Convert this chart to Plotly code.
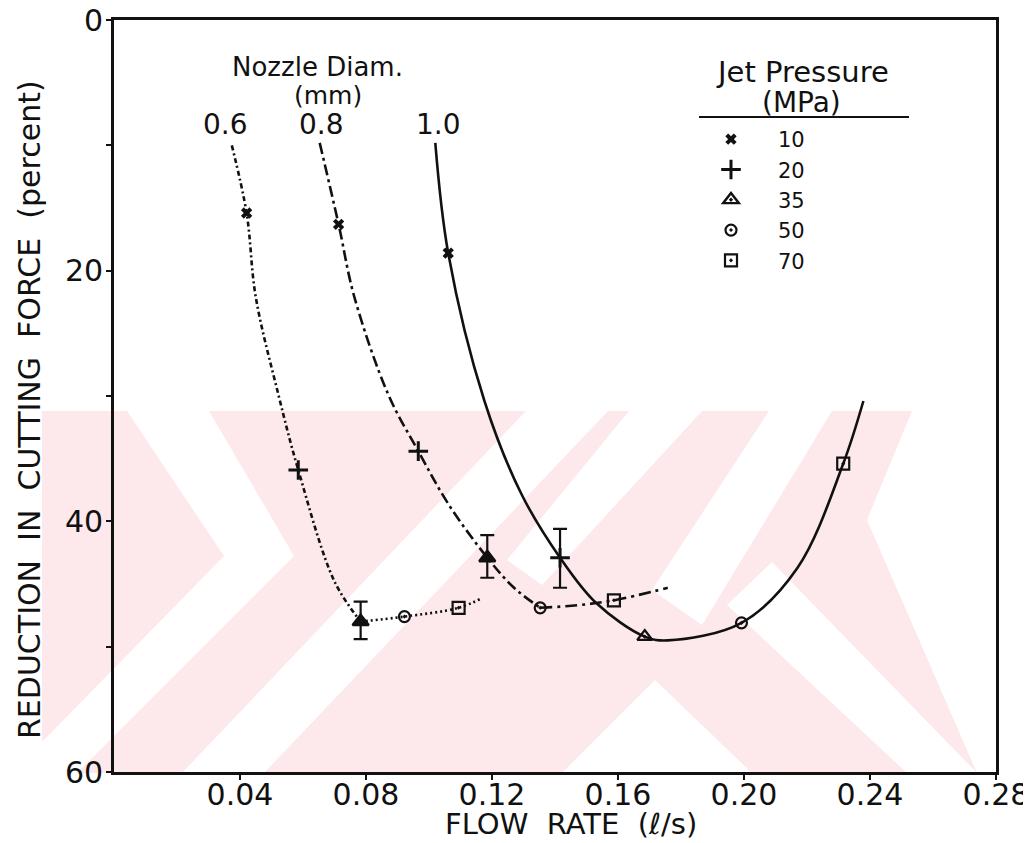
import plotly.graph_objects as go

# ---------------- data ----------------
pressures = ["10", "20", "35", "50", "70"]          # jet pressure (MPa)

# measured points, one per pressure, for each nozzle diameter
flow_06 = [0.0421, 0.0585, 0.0783, 0.0922, 0.1094]
red_06 = [15.4, 35.9, 48.0, 47.6, 46.9]
flow_08 = [0.0713, 0.0966, 0.1185, 0.1353, 0.1587]
red_08 = [16.3, 34.4, 42.9, 46.9, 46.3]
flow_10 = [0.1061, 0.1416, 0.1685, 0.1992, 0.2315]
red_10 = [18.6, 42.9, 49.2, 48.1, 35.4]

# scatter bands (minus = towards 0, plus = towards 60)
err_06_35 = [1.6, 1.4]
err_08_35 = [1.8, 1.6]
err_10_20 = [2.3, 2.4]

# drawn curves
curve_06a_x = [0.0374, 0.0421, 0.0450, 0.0522, 0.0585, 0.0700, 0.0783]
curve_06a_y = [10.0, 15.4, 22.1, 29.9, 35.9, 44.8, 48.0]
curve_06b_x = [0.0783, 0.0922, 0.1094, 0.1170]
curve_06b_y = [48.0, 47.6, 46.9, 46.1]
curve_08a_x = [0.0653, 0.0713, 0.0763, 0.0871, 0.0966, 0.1061, 0.1185, 0.1270, 0.1353]
curve_08a_y = [9.8, 16.3, 22.1, 29.9, 34.4, 38.6, 42.9, 45.3, 46.9]
curve_08b_x = [0.1353, 0.1470, 0.1587, 0.1758]
curve_08b_y = [46.9, 46.7, 46.3, 45.3]
curve_10_x = [0.1020, 0.1061, 0.1176, 0.1293, 0.1416, 0.1530,
              0.1685, 0.1758, 0.1992, 0.2170, 0.2315, 0.2379]
curve_10_y = [9.8, 18.6, 30.4, 37.8, 42.9, 46.5,
              49.2, 49.5, 48.1, 43.7, 35.4, 30.4]

nozzle_labels = ["0.6", "0.8", "1.0"]
x_tickvals = [0.04, 0.08, 0.12, 0.16, 0.20, 0.24, 0.28]
x_ticktext = ["0.04", "0.08", "0.12", "0.16", "0.20", "0.24", "0.28"]
y_tickvals = [0, 10, 20, 30, 40, 50, 60]
y_ticktext = ["0", "", "20", "", "40", "", "60"]

# ---------------- geometry helpers (layout only) ----------------
PAGE_W, PAGE_H = 1031, 843
OFF_X, OFF_Y = 6, 8              # page offset of the figure (html body margin)
W, H = PAGE_W - OFF_X, PAGE_H - OFF_Y
L, R, T, B = 112, 994, 20, 772   # plot area in page pixels


def px(x):
    return (x - L) / (R - L)


def py(y):
    return (B - y) / (B - T)


FONT = "DejaVu Sans"
BLACK = "#111111"

fig = go.Figure()

# curves
line_specs = [
    (curve_06a_x, curve_06a_y, "5px,3px,2px,3px"),
    (curve_06b_x, curve_06b_y, "2px,3px"),
    (curve_08a_x, curve_08a_y, "11px,4px,3px,4px"),
    (curve_08b_x, curve_08b_y, "12px,5px,3px,5px"),
    (curve_10_x, curve_10_y, "solid"),
]
for xs, ys, dash in line_specs:
    fig.add_trace(go.Scatter(
        x=xs, y=ys, mode="lines", showlegend=False, hoverinfo="skip",
        line=dict(color=BLACK, width=2.6, dash=dash, shape="spline", smoothing=1.0)))

# error bars
fig.add_trace(go.Scatter(
    x=[flow_06[2], flow_08[2], flow_10[1]],
    y=[red_06[2], red_08[2], red_10[1]],
    mode="markers", marker=dict(size=1, color="rgba(0,0,0,0)"),
    showlegend=False, hoverinfo="skip",
    error_y=dict(type="data", symmetric=False,
                 array=[err_06_35[1], err_08_35[1], err_10_20[1]],
                 arrayminus=[err_06_35[0], err_08_35[0], err_10_20[0]],
                 color=BLACK, thickness=2.2, width=7)))

# markers, one trace per jet pressure
sym = {
    "10": dict(symbol="x", size=10, line=dict(width=0)),
    "20": dict(symbol="cross-thin", size=14, line=dict(width=3, color=BLACK)),
    "50": dict(symbol="circle-open-dot", size=11, line=dict(width=2.2, color=BLACK)),
    "70": dict(symbol="square-open-dot", size=12, line=dict(width=2.2, color=BLACK)),
}
for i, p in enumerate(pressures):
    if p == "35":
        xs = [flow_10[i], flow_06[i], flow_08[i]]
        ys = [red_10[i], red_06[i], red_08[i]]
        mk = dict(symbol=["triangle-up-open-dot", "triangle-up", "triangle-up"],
                  size=[13, 14, 14], color=BLACK, opacity=1,
                  line=dict(width=2.4, color=BLACK))
    else:
        xs = [flow_06[i], flow_08[i], flow_10[i]]
        ys = [red_06[i], red_08[i], red_10[i]]
        mk = dict(color=BLACK, opacity=1, **sym[p])
    fig.add_trace(go.Scatter(x=xs, y=ys, mode="markers", name=p, marker=mk,
                             cliponaxis=False))

# ---------------- watermark (decoration) ----------------
PINK = "#fde9ec"
wm_base = [(40, 411), (910, 411), (975, 773), (40, 773)]
wm_white = [
    [(125, 411), (207, 411), (292, 556), (75, 773), (40, 773), (40, 742), (222, 556)],
    [(180, 773), (262, 773), (606, 411), (524, 411)],
    [(560, 773), (653, 680), (750, 773)],
    [(627, 411), (700, 411), (540, 585), (505, 560)],
    [(725, 605), (770, 562), (975, 773), (905, 773)],
    [(767, 411), (830, 411), (700, 625), (650, 590)],
    [(910, 411), (1031, 411), (1031, 773), (975, 773), (865, 520)],
]


def poly_path(pts):
    return "M " + " L ".join(f"{px(a):.5f},{py(b):.5f}" for a, b in pts) + " Z"


shapes = [dict(type="path", xref="paper", yref="paper", path=poly_path(wm_base),
               fillcolor=PINK, line=dict(width=0), layer="below")]
for poly in wm_white:
    shapes.append(dict(type="path", xref="paper", yref="paper", path=poly_path(poly),
                       fillcolor="white", line=dict(width=0), layer="below"))

# underline of legend heading
shapes.append(dict(type="line", xref="paper", yref="paper",
                   x0=px(697), x1=px(907), y0=py(117), y1=py(117),
                   line=dict(color=BLACK, width=2.2)))

# ---------------- annotations ----------------
ann = []


def add_text(text, x, y, size, **kw):
    ann.append(dict(text=text, x=px(x), y=py(y), xref="paper", yref="paper",
                    showarrow=False, font=dict(family=FONT, size=size, color=BLACK),
                    xanchor="center", yanchor="middle", **kw))


add_text("Nozzle Diam.", 315, 67, 26)
add_text("(mm)", 326, 95, 25)
for lab, xc in zip(nozzle_labels, [223, 319, 436]):
    add_text(lab, xc, 124, 28)
add_text("Jet Pressure", 800, 72, 29)
add_text("(MPa)", 799, 102, 28)
add_text("REDUCTION  IN  CUTTING  FORCE  (percent)", 28, 410, 30, textangle=-90)
add_text("FLOW  RATE  (ℓ/s)", 569, 824, 29)

fig.update_layout(
    width=W, height=H,
    margin=dict(l=L - OFF_X, r=(W + OFF_X) - R, t=T - OFF_Y, b=(H + OFF_Y) - B,
                autoexpand=False),
    paper_bgcolor="white", plot_bgcolor="rgba(0,0,0,0)",
    font=dict(family=FONT, color=BLACK),
    shapes=shapes, annotations=ann,
    legend=dict(x=px(682), y=py(119), xanchor="left", yanchor="top",
                font=dict(family=FONT, size=21, color=BLACK),
                itemwidth=84, bgcolor="rgba(0,0,0,0)", borderwidth=0,
                tracegroupgap=0),
)
fig.update_xaxes(range=[0, 0.28], tickvals=x_tickvals, ticktext=x_ticktext,
                 automargin=False, ticklabelstandoff=-11, ticklabeloverflow="allow",
                 showgrid=False, zeroline=False, showline=True, mirror=True,
                 linecolor=BLACK, linewidth=2.6, ticks="outside", ticklen=5,
                 tickwidth=2.2, tickcolor=BLACK,
                 tickfont=dict(family=FONT, size=30, color=BLACK))
fig.update_yaxes(range=[60, 0], tickvals=y_tickvals, ticktext=y_ticktext,
                 automargin=False, ticklabelstandoff=-3, ticklabeloverflow="allow",
                 showgrid=False, zeroline=False, showline=True, mirror=True,
                 linecolor=BLACK, linewidth=2.6, ticks="outside", ticklen=5,
                 tickwidth=2.2, tickcolor=BLACK,
                 tickfont=dict(family=FONT, size=30, color=BLACK))

fig.write_html("out.html")
